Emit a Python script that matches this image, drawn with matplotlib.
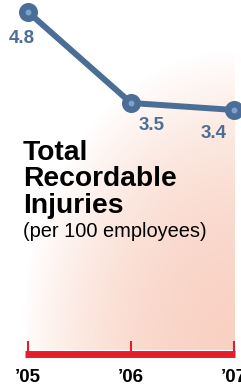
import numpy as np
import matplotlib.pyplot as plt

# data
years = ["\u201905", "\u201906", "\u201907"]
rates = [4.8, 3.5, 3.4]

blue = '#4B6E96'
light_blue = '#7DA2CF'
red = '#E3202A'
num_font = ['Liberation Sans Narrow', 'Liberation Sans', 'DejaVu Sans']
txt_font = ['Liberation Sans', 'DejaVu Sans']

fig = plt.figure(figsize=(2.41, 3.89), dpi=100)
ax = fig.add_axes([0, 0, 1, 1])
ax.set_facecolor('white')

x = np.arange(len(rates))
ax.set_xlim(-0.272, 2.068)
ax.set_ylim(-0.586, 4.971)

# pink wash fading out toward the upper left
gx = np.linspace(0, 1, 200)
gy = np.linspace(0, 1, 300)
GX, GY = np.meshgrid(gx, gy)
dx = (1 - GX) * 206 / 215.0
dy = GY * 350 / 300.0
alpha = np.clip(1 - dx**2 - dy**2, 0, 1) * 0.95
img = np.zeros((300, 200, 4))
img[..., 0] = 249 / 255.
img[..., 1] = 207 / 255.
img[..., 2] = 192 / 255.
img[..., 3] = alpha
ax.imshow(img, extent=(-0.01, 2.0, -0.03, 4.97), origin='lower',
          aspect='auto', zorder=0, interpolation='bilinear')

# the line
ax.plot(x, rates, color=blue, lw=4.3, marker='o', ms=9, mfc=light_blue,
        mec=blue, mew=4.7, zorder=3, clip_on=False, solid_joinstyle='round')

# value labels
offsets = [(-4.3, -22.3), (14.8, -19.4), (-14.8, -20.2)]
for xi, r, off in zip(x, rates, offsets):
    ax.annotate('%.1f' % r, (xi, r), xytext=off, textcoords='offset points',
                ha='center', va='baseline', fontsize=13.5, fontweight='bold',
                color=blue, family=num_font)

# red axis
for s in ['top', 'left', 'right']:
    ax.spines[s].set_visible(False)
ax.spines['bottom'].set_position(('data', -0.086))
ax.spines['bottom'].set_linewidth(5)
ax.spines['bottom'].set_color(red)
ax.spines['bottom'].set_capstyle('butt')
ax.spines['bottom'].set_bounds(-0.03, 2.01)
ax.set_yticks([])
ax.set_xticks(x)
ax.set_xticklabels(years, fontsize=13.5, fontweight='bold', family=num_font)
ax.tick_params(axis='x', direction='in', length=9.4, width=1.5, color=red,
               pad=10.8, labelcolor='black')

# title block
W, H = 241.0, 389.0
fig.text(23 / W, 1 - 160 / H, 'Total', fontsize=20.3, fontweight='bold',
         family=txt_font, va='baseline')
fig.text(23 / W, 1 - 186.5 / H, 'Recordable', fontsize=20.3, fontweight='bold',
         family=txt_font, va='baseline')
fig.text(23 / W, 1 - 213 / H, 'Injuries', fontsize=20.3, fontweight='bold',
         family=txt_font, va='baseline')
fig.text(23 / W, 1 - 237 / H, '(per 100 employees)', fontsize=14.4,
         family=txt_font, va='baseline')

fig.savefig('out.png', dpi=100)
